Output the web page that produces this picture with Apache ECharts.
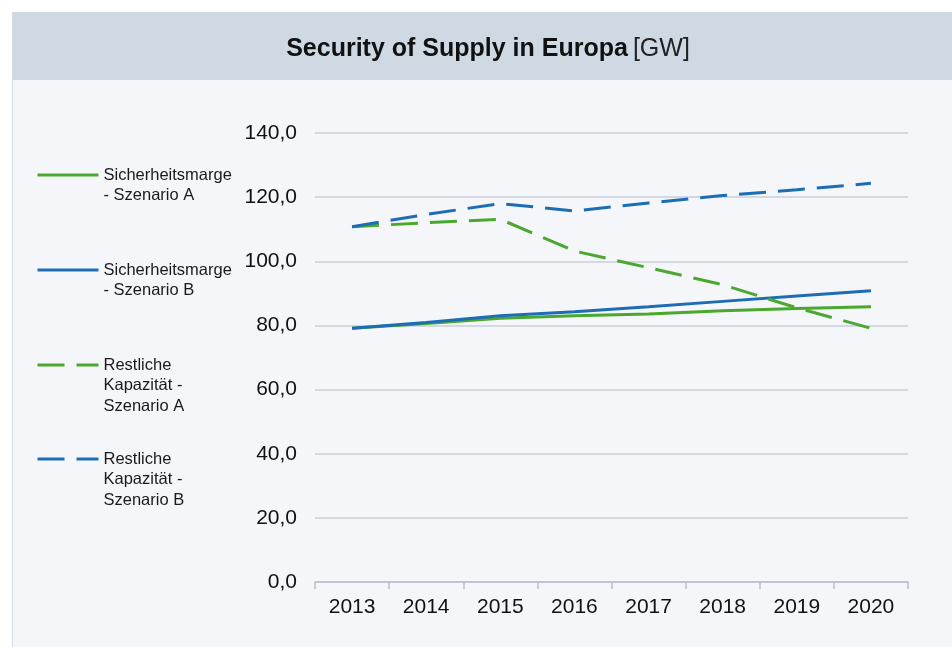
<!DOCTYPE html>
<html>
<head>
<meta charset="utf-8">
<script src="https://cdn.jsdelivr.net/npm/echarts@6/dist/echarts.min.js"></script>
<style>
  html, body { margin: 0; padding: 0; background: #ffffff; }
  #frame { position: absolute; left: 12px; top: 12px; width: 940px; height: 635px; background: #f4f6fa; border-left: 1px solid #d6dbe3; }
  #head { height: 68px; background: #cfd9e4; }
  #chart { position: absolute; left: 0; top: 0; width: 952px; height: 647px; }
</style>
</head>
<body>
<div id="frame"><div id="head"></div></div>
<div id="chart"></div>
<script>
  var years = ['2013', '2014', '2015', '2016', '2017', '2018', '2019', '2020'];
  var seriesNames = [
    'Sicherheitsmarge\n- Szenario A',
    'Sicherheitsmarge\n- Szenario B',
    'Restliche\nKapazität -\nSzenario A',
    'Restliche\nKapazität -\nSzenario B'
  ];
  var marginA = [79.1, 80.6, 82.2, 83.0, 83.6, 84.6, 85.3, 85.8];
  var marginB = [79.1, 80.9, 83.0, 84.3, 85.8, 87.5, 89.2, 90.8];
  var restA = [110.8, 112.0, 113.1, 103.2, 98.0, 92.7, 85.5, 79.1];
  var restB = [110.8, 114.6, 118.0, 115.7, 118.2, 120.5, 122.3, 124.3];
  var yTicks = { min: 0, max: 140, interval: 20 };

  var GREEN = '#4aa82e';
  var BLUE = '#1c6db4';
  var FONT = 'Liberation Sans, Arial, sans-serif';

  var chart = echarts.init(document.getElementById('chart'));

  function lineSeries(name, data, color, dashed) {
    return {
      name: name,
      type: 'line',
      data: data,
      symbol: 'none',
      smooth: false,
      lineStyle: {
        color: color,
        width: 3,
        type: dashed ? [27, 12] : 'solid'
      },
      itemStyle: { color: color }
    };
  }

  // one legend per entry; leading blank lines keep the icon level with the first text line
  var legendTops = [175, 270, 365, 459];
  var legendLh = 20.5;
  var legends = seriesNames.map(function (name, i) {
    var lines = name.split('\n').length;
    return {
      data: [name],
      orient: 'vertical',
      left: 36,
      top: legendTops[i] - (2 * lines - 1) * legendLh / 2,
      padding: 0,
      itemWidth: 61,
      itemHeight: 14,
      itemGap: 0,
      selectedMode: false,
      itemStyle: { opacity: 0, color: 'transparent', borderWidth: 0 },
      lineStyle: { width: 3 },
      formatter: function (n) {
        var pad = '';
        for (var k = 1; k < n.split('\n').length; k++) pad += '\n';
        return pad + n;
      },
      textStyle: {
        color: '#1a1a1a',
        fontFamily: FONT,
        fontSize: 16.5,
        lineHeight: legendLh
      }
    };
  });

  var option = {
    backgroundColor: 'transparent',
    animation: false,
    title: {
      text: '{b|Security of Supply in Europa} {n|[GW]}',
      left: 483,
      textAlign: 'center',
      top: 32,
      textStyle: {
        rich: {
          b: { fontFamily: FONT, fontSize: 25, fontWeight: 'bold', color: '#111' },
          n: { fontFamily: FONT, fontSize: 25, fontWeight: 'normal', color: '#222' }
        }
      }
    },
    legend: legends,
    grid: {
      left: 315,
      right: 44,
      top: 133,
      bottom: 65,
      containLabel: false
    },
    xAxis: {
      type: 'category',
      data: years,
      boundaryGap: true,
      axisLine: { lineStyle: { color: '#b8c0cc', width: 1.5 } },
      axisTick: { show: true, length: 7, lineStyle: { color: '#b8c0cc', width: 1.5 } },
      axisLabel: { color: '#111', fontFamily: FONT, fontSize: 21, margin: 15 }
    },
    yAxis: {
      type: 'value',
      min: yTicks.min,
      max: yTicks.max,
      interval: yTicks.interval,
      axisLine: { show: false },
      axisTick: { show: false },
      axisLabel: {
        color: '#111',
        fontFamily: FONT,
        fontSize: 21,
        margin: 18,
        formatter: function (v) { return v.toFixed(1).replace('.', ','); }
      },
      splitLine: { lineStyle: { color: '#c9ced8', width: 1.5 } }
    },
    series: [
      lineSeries(seriesNames[0], marginA, GREEN, false),
      lineSeries(seriesNames[1], marginB, BLUE, false),
      lineSeries(seriesNames[2], restA, GREEN, true),
      lineSeries(seriesNames[3], restB, BLUE, true)
    ]
  };

  chart.setOption(option);
</script>
</body>
</html>
